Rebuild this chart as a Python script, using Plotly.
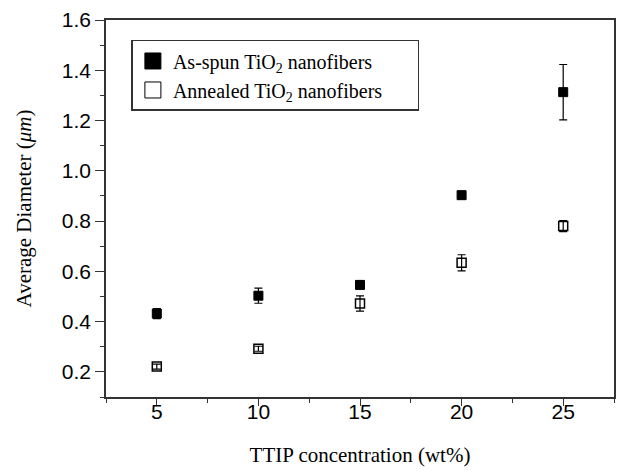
import plotly.graph_objects as go

concentration = [5, 10, 15, 20, 25]
as_spun = [0.432, 0.503, 0.546, 0.903, 1.313]
as_spun_err = [0.02, 0.03, 0.017, 0.015, 0.11]
annealed = [0.221, 0.292, 0.472, 0.634, 0.78]
annealed_err = [0.01, 0.01, 0.03, 0.032, 0.022]

x_ticks = [5, 10, 15, 20, 25]
y_ticks = [0.2, 0.4, 0.6, 0.8, 1.0, 1.2, 1.4, 1.6]

serif = "Liberation Serif, Times New Roman, serif"
sans = "Liberation Sans, Arial, sans-serif"

fig = go.Figure()
fig.add_trace(go.Scatter(
    x=concentration, y=as_spun, mode="markers", showlegend=False,
    marker=dict(symbol="square", size=9, color="black", line=dict(color="black", width=1)),
    error_y=dict(type="data", array=as_spun_err, color="black", thickness=1.2, width=4),
))
fig.add_trace(go.Scatter(
    x=concentration, y=annealed, mode="markers", showlegend=False,
    marker=dict(symbol="square-open", size=9, color="black", line=dict(color="black", width=1.5)),
    error_y=dict(type="data", array=annealed_err, color="black", thickness=1.2, width=4),
))
# legend entries
pad = "\u00a0" * 6
fig.add_trace(go.Scatter(
    x=[None], y=[None], mode="markers", name="As-spun TiO<sub>2</sub> nanofibers" + pad,
    marker=dict(symbol="square", size=16, color="black", line=dict(color="black", width=1)),
))
fig.add_trace(go.Scatter(
    x=[None], y=[None], mode="markers", name="Annealed TiO<sub>2</sub> nanofibers" + pad,
    marker=dict(symbol="square-open", size=16, color="black", line=dict(color="black", width=1)),
))

axis_common = dict(
    showgrid=False, zeroline=False, showline=True, linecolor="#333333", linewidth=1.5,
    mirror=True, ticks="outside", tickwidth=1.2, tickcolor="#333333",
    tickfont=dict(family=sans, size=21, color="black"),
)

fig.update_xaxes(
    range=[2.5, 27.5], tickvals=x_ticks, ticklen=7, ticklabelstandoff=-12,
    minor=dict(ticks="outside", ticklen=4, tickwidth=1.2, tickcolor="#333333", dtick=2.5, tick0=0),
    title=dict(text="TTIP concentration (wt%)", font=dict(family=serif, size=21, color="black"), standoff=25),
    **axis_common,
)
fig.update_yaxes(
    range=[0.1, 1.6], tickvals=y_ticks, ticktext=[f"{v:.1f}" for v in y_ticks], ticklen=9,
    minor=dict(ticks="outside", ticklen=4, tickwidth=1.2, tickcolor="#333333", dtick=0.1, tick0=0),
    title=dict(text="Average Diameter (<i>μm</i>)", font=dict(family=serif, size=21, color="black"), standoff=24),
    **axis_common,
)

fig.update_layout(
    width=618, height=470,
    margin=dict(l=106, r=2, t=20, b=73),
    plot_bgcolor="white", paper_bgcolor="white",
    legend=dict(
        x=0.050, y=0.947, xanchor="left", yanchor="top",
        bordercolor="#333333", borderwidth=1.5, bgcolor="white",
        font=dict(family=serif, size=20, color="black"),
        itemwidth=30, tracegroupgap=0,
    ),
)

fig.write_html("out.html")
